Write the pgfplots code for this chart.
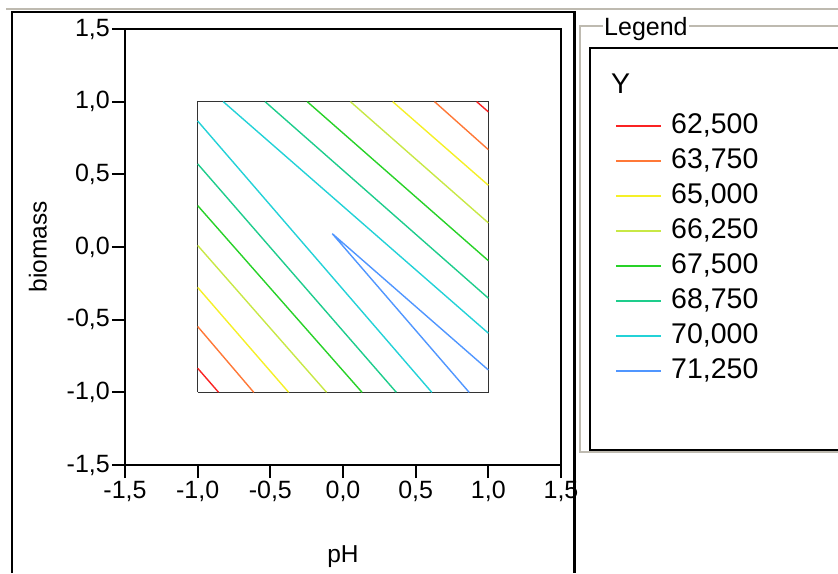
\documentclass[border=0pt]{standalone}
\usepackage{fontspec}
\setmainfont{Liberation Sans}
\usepackage{pgfplots}
\pgfplotsset{compat=1.18}

\definecolor{lvlRed}{RGB}{250,35,35}
\definecolor{lvlOrange}{RGB}{255,120,55}
\definecolor{lvlYellow}{RGB}{245,240,40}
\definecolor{lvlLime}{RGB}{200,232,70}
\definecolor{lvlGreen}{RGB}{40,210,40}
\definecolor{lvlTeal}{RGB}{30,205,140}
\definecolor{lvlCyan}{RGB}{35,210,215}
\definecolor{lvlBlue}{RGB}{80,150,255}
\definecolor{panelgray}{RGB}{190,186,176}

\begin{document}
\begin{tikzpicture}
\useasboundingbox (0pt,0pt) rectangle (838pt,-573pt);

% window frames
\draw[line width=2pt, panelgray] (6pt,-8.5pt) -- (838pt,-8.5pt);
\draw[line width=2.2pt] (12pt,-573pt) -- (12pt,-12pt) -- (574.5pt,-12pt) -- (574.5pt,-573pt);
\draw[line width=2pt, panelgray] (850pt,-26pt) -- (580pt,-26pt) -- (580pt,-452pt) -- (850pt,-452pt);
\draw[line width=2.2pt] (850pt,-48pt) -- (590pt,-48pt) -- (590pt,-450pt) -- (850pt,-450pt);
\node[anchor=west, fill=white, inner xsep=1pt, inner ysep=0pt, font=\fontsize{25}{28}\selectfont] at (603pt,-29pt) {Legend};
\node[anchor=west, inner sep=0pt, font=\fontsize{28.5}{32}\selectfont] at (611pt,-84pt) {Y};

\begin{axis}[
    at={(125pt,-465pt)}, anchor=south west,
    scale only axis, width=436pt, height=436pt,
    xmin=-1.5, xmax=1.5, ymin=-1.5, ymax=1.5,
    xtick={-1.5,-1,-0.5,0,0.5,1,1.5},
    ytick={-1.5,-1,-0.5,0,0.5,1,1.5},
    xticklabels={{-1,5},{-1,0},{-0,5},{0,0},{0,5},{1,0},{1,5}},
    yticklabels={{-1,5},{-1,0},{-0,5},{0,0},{0,5},{1,0},{1,5}},
    axis line style={line width=2.2pt},
    tick style={line width=2.2pt, black},
    major tick length=13pt, tick align=outside,
    xtick pos=bottom, ytick pos=left,
    ticklabel style={font=\fontsize{25}{28}\selectfont},
    xticklabel style={inner sep=2pt, yshift=-1pt},
    yticklabel style={inner sep=2pt},
    xlabel={pH}, ylabel={biomass},
    label style={font=\fontsize{24.5}{27}\selectfont},
    xlabel style={at={(axis description cs:0.5,-0.21)}, anchor=center},
    ylabel style={at={(axis description cs:-0.2,0.5)}, anchor=center},
    legend style={at={(axis description cs:1.1239,0.8073)}, anchor=north west,
        draw=none, fill=none, inner sep=0pt,
        font=\fontsize{28.5}{32}\selectfont,
        row sep=10pt, column sep=9pt,
        nodes={inner sep=0pt, text height=20pt, text depth=5pt}},
    legend cell align=left,
    legend image code/.code={\draw[#1, line width=2pt] (0pt,0pt) -- (45pt,0pt);},
    every axis plot/.append style={line width=1.4pt},
]
% data region
\addplot[line width=1pt, black!80, forget plot] coordinates {(-1,-1) (1,-1) (1,1) (-1,1) (-1,-1)};

% contour lines (two branches per level)
\addplot[color=lvlRed] coordinates {(-1,-0.834) (-0.856,-1)};
\addlegendentry{62,500}
\addplot[color=lvlRed, forget plot] coordinates {(0.92,1) (1,0.93)};

\addplot[color=lvlOrange] coordinates {(-1,-0.547) (-0.614,-1)};
\addlegendentry{63,750}
\addplot[color=lvlOrange, forget plot] coordinates {(0.63,1) (1,0.67)};

\addplot[color=lvlYellow] coordinates {(-1,-0.278) (-0.374,-1)};
\addlegendentry{65,000}
\addplot[color=lvlYellow, forget plot] coordinates {(0.342,1) (1,0.425)};

\addplot[color=lvlLime] coordinates {(-1,0.011) (-0.113,-1)};
\addlegendentry{66,250}
\addplot[color=lvlLime, forget plot] coordinates {(0.051,1) (1,0.166)};

\addplot[color=lvlGreen] coordinates {(-1,0.285) (0.131,-1)};
\addlegendentry{67,500}
\addplot[color=lvlGreen, forget plot] coordinates {(-0.246,1) (1,-0.094)};

\addplot[color=lvlTeal] coordinates {(-1,0.572) (0.367,-1)};
\addlegendentry{68,750}
\addplot[color=lvlTeal, forget plot] coordinates {(-0.536,1) (1,-0.352)};

\addplot[color=lvlCyan] coordinates {(-1,0.867) (0.611,-1)};
\addlegendentry{70,000}
\addplot[color=lvlCyan, forget plot] coordinates {(-0.824,1) (1,-0.593)};

\addplot[color=lvlBlue] coordinates {(1,-0.846) (-0.074,0.092) (0.868,-1)};
\addlegendentry{71,250}
\end{axis}
\end{tikzpicture}
\end{document}
